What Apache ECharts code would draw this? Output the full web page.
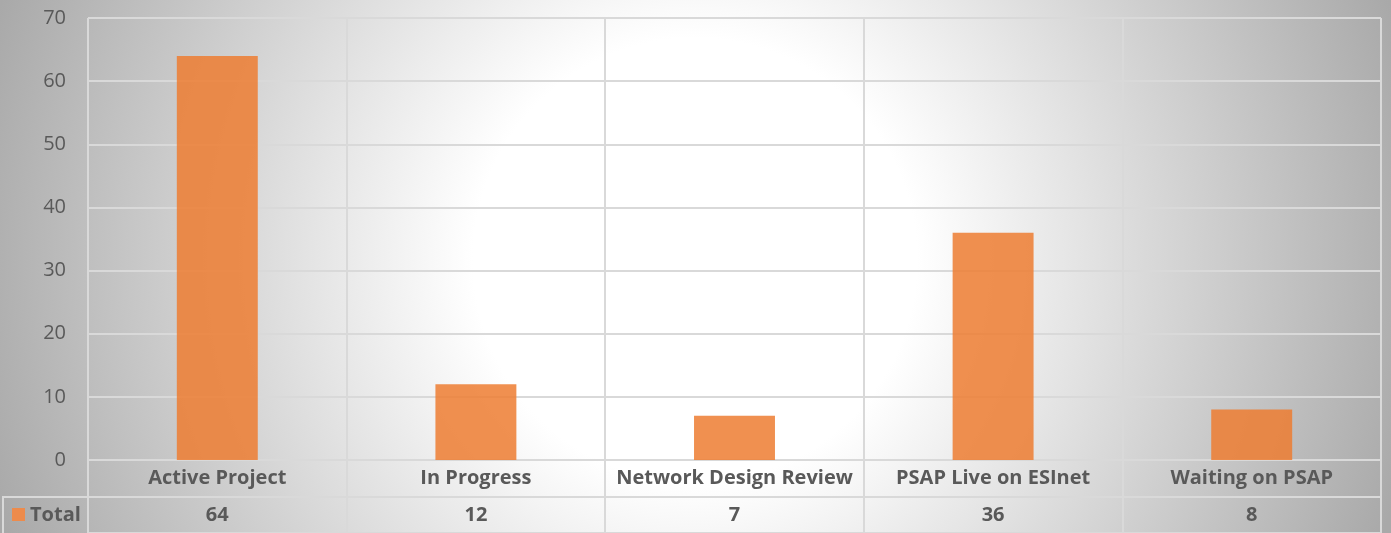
<!DOCTYPE html>
<html>
<head>
<meta charset="utf-8">
<script src="https://cdn.jsdelivr.net/npm/echarts@6/dist/echarts.min.js"></script>
<style>
html,body{margin:0;padding:0;}
#chart{width:1391px;height:533px;}
</style>
</head>
<body>
<div id="chart"></div>
<script>
const categories = ['Active Project', 'In Progress', 'Network Design Review', 'PSAP Live on ESInet', 'Waiting on PSAP'];
const totals = [64, 12, 7, 36, 8];
const seriesName = 'Total';
const yTicks = { min: 0, max: 70, interval: 10 };

const FONT = '"Open Sans", "Noto Sans", sans-serif';
const TXT = '#595959';
const GRID_LINE = '#d9d9d9';

const chart = echarts.init(document.getElementById('chart'), null, { renderer: 'canvas' });

chart.setOption({
  animation: false,
  textStyle: { fontFamily: FONT },
  graphic: [
    {
      type: 'rect', z: -100, silent: true,
      shape: { x: 0, y: 0, width: 1391, height: 533 },
      style: {
        fill: {
          type: 'radial', x: 695, y: 260, r: 740, global: true,
          colorStops: [
            { offset: 0, color: '#ffffff' },
            { offset: 0.3, color: '#ffffff' },
            { offset: 1, color: '#a9a9a9' }
          ]
        }
      }
    },
    { type: 'line', silent: true, z: 5, shape: { x1: 3, y1: 497, x2: 88, y2: 497 }, style: { stroke: GRID_LINE, lineWidth: 2 } },
    { type: 'line', silent: true, z: 5, shape: { x1: 3, y1: 496, x2: 3, y2: 533 }, style: { stroke: GRID_LINE, lineWidth: 2 } },
    { type: 'rect', silent: true, z: 5, shape: { x: 12, y: 508, width: 13, height: 13 }, style: { fill: '#ed8b4c' } },
    { type: 'text', silent: true, z: 5, style: { x: 30, y: 515, text: seriesName, fill: TXT, font: 'bold 20px ' + FONT, textVerticalAlign: 'middle', verticalAlign: 'middle' } }
  ],
  grid: [
    { left: 88, right: 10, top: 18, bottom: 73 },
    { left: 88, right: 10, top: 460, bottom: 0 }
  ],
  xAxis: [
    {
      type: 'category', gridIndex: 0, data: categories, boundaryGap: true,
      axisLine: { show: false }, axisTick: { show: false },
      splitLine: { show: true, lineStyle: { color: GRID_LINE, width: 2 } },
      axisLabel: {
        margin: 0, interval: 0,
        formatter: function (v, i) { return '{a|' + v + '}\n{b|' + totals[i] + '}'; },
        rich: {
          a: { fontFamily: FONT, fontWeight: 'bold', fontSize: 20, color: TXT, lineHeight: 37 },
          b: { fontFamily: FONT, fontWeight: 'bold', fontSize: 20, color: TXT, lineHeight: 37 }
        }
      }
    },
    {
      type: 'category', gridIndex: 1, data: categories, boundaryGap: true,
      axisLine: { show: false }, axisTick: { show: false }, axisLabel: { show: false },
      splitLine: { show: true, lineStyle: { color: GRID_LINE, width: 2 } }
    }
  ],
  yAxis: [
    {
      type: 'value', gridIndex: 0, min: yTicks.min, max: yTicks.max, interval: yTicks.interval,
      axisLine: { show: false }, axisTick: { show: false },
      axisLabel: { color: TXT, fontSize: 20, fontFamily: FONT, margin: 22 },
      splitLine: { show: true, lineStyle: { color: GRID_LINE, width: 2 } }
    },
    {
      type: 'value', gridIndex: 1, min: 0, max: 2, interval: 1, inverse: true,
      axisLine: { show: false }, axisTick: { show: false }, axisLabel: { show: false },
      splitLine: { show: true, lineStyle: { color: GRID_LINE, width: 2 } }
    }
  ],
  series: [
    {
      name: seriesName, type: 'bar', xAxisIndex: 0, yAxisIndex: 0,
      data: totals, barWidth: '31.3%',
      itemStyle: { color: 'rgba(237,125,49,0.85)' }
    }
  ]
});
</script>
</body>
</html>
